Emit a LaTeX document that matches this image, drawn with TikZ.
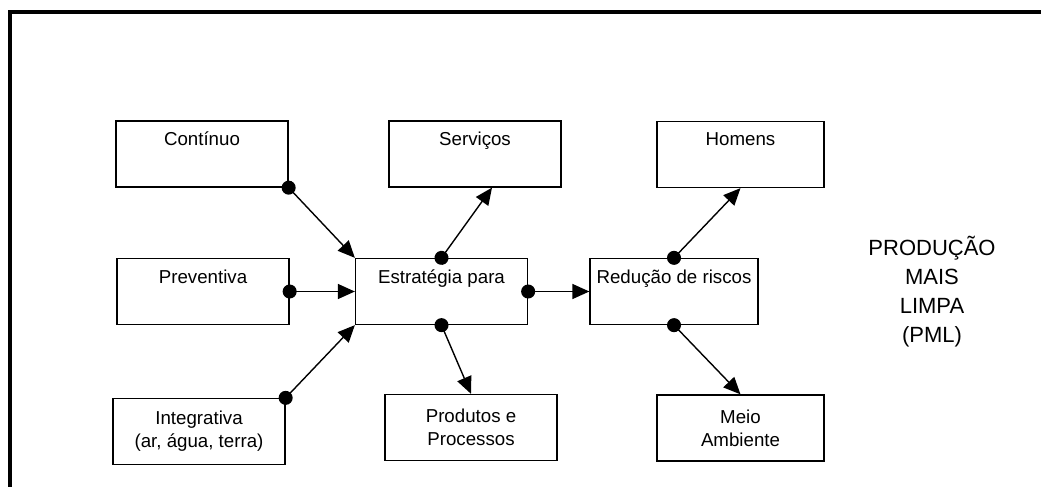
\documentclass[tikz,border=0pt]{standalone}
\usepackage{fontspec}
\setmainfont{Liberation Sans}
\usetikzlibrary{arrows.meta}

\begin{document}
\begin{tikzpicture}[x=1pt, y=-1pt]
			\tikzset{box/.style = {draw, rectangle, line width=1.3pt, inner sep=0pt,
			minimum width=172pt, minimum height=66pt, align=center,
			font=\fontsize{18.7}{23}\selectfont}}
			\tikzset{link/.style = {line width=1.4pt, shorten <=-7pt,
			{Circle[length=14pt]}-{Triangle[length=17pt, width=15pt]}}}
			
			\useasboundingbox (0, 0) rectangle (1041, 487);
			\draw[line width=4pt] (10, 487) -- (10, 12) -- (1041, 12);
			
			\node[box] (continuo) at (202, 154) {Contínuo\\\strut};
			\node[box] (servicos) at (475, 154) {Serviços\\\strut};
			\node[box, minimum width=167pt] (homens) at (740.5, 154.5)
			{Homens\\\strut};
			\node[box] (preventiva) at (203, 291.5) {Preventiva\\\strut};
			\node[box] (estrategia) at (441.5, 291.5) {Estratégia para\\\strut};
			\node[box, minimum width=168pt] (reducao) at (674, 291.5)
			{Redução de riscos\\\strut};
			\node[box] (integrativa) at (199, 431.5)
			{Integrativa\\(ar, água, terra)};
			\node[box] (produtos) at (471, 427.5) {Produtos e\\Processos};
			\node[box, minimum width=167pt] (meio) at (740.5, 428)
			{Meio\\Ambiente};
			\node[align=center, font=\fontsize{22}{29}\selectfont] (pml)
			at (932, 291.5) {PRODUÇÃO\\MAIS\\LIMPA\\(PML)};
			
			\draw[link] (continuo.south east) -- (estrategia.north west);
			\draw[link] (preventiva.east) -- (estrategia.west);
			\draw[link] (integrativa.north east) -- (estrategia.south west);
			\draw[link] (estrategia.north) -- ([xshift=17pt]servicos.south);
			\draw[link] (estrategia.south) -- (produtos.north);
			\draw[link] (estrategia.east) -- (reducao.west);
			\draw[link] (reducao.north) -- (homens.south);
			\draw[link] (reducao.south) -- (meio.north);
		\end{tikzpicture}
\end{document}
